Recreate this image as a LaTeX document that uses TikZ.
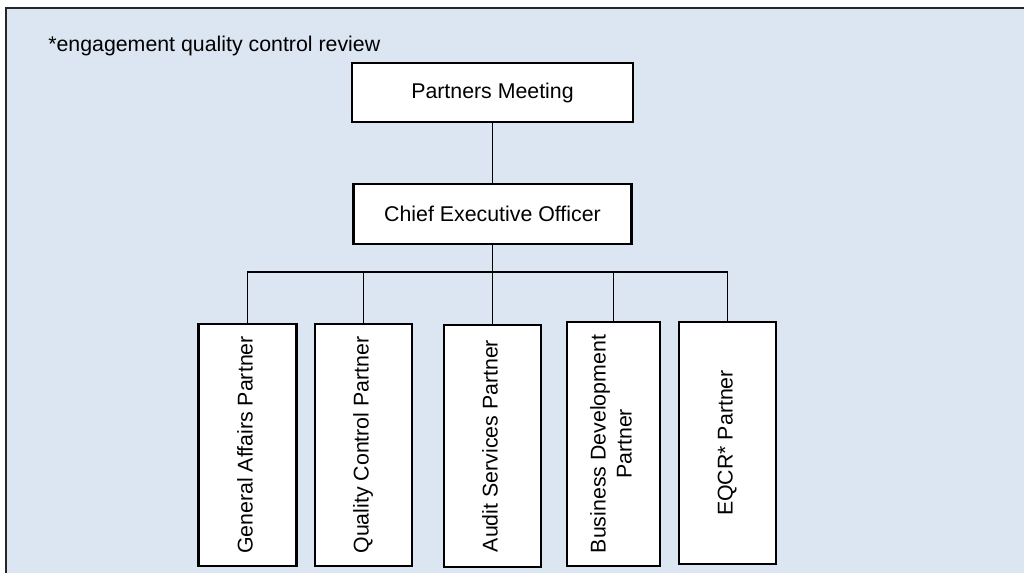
\documentclass[tikz,border=0pt]{standalone}
\usepackage{fontspec}
\setmainfont{Liberation Sans}
\definecolor{bgblue}{RGB}{220,230,242}
\newcommand{\vtext}[1]{\rotatebox{90}{\begin{tabular}{@{}c@{}}#1\end{tabular}}}
\begin{document}
\begin{tikzpicture}[x=0.75pt,y=-0.75pt,
  txt/.style={font=\fontsize{16}{19.5}\selectfont},
  box/.style={draw=black,line width=1.8pt,fill=white,inner sep=0pt,txt},
  tallbox/.style={box,minimum height=181.5pt},
  link/.style={draw=black,line width=1.4pt}]
\useasboundingbox (0,0) rectangle (1024,573);
\fill[bgblue] (6,8) rectangle (1030,580);
\draw[line width=1.3pt,black!85] (6,580) -- (6,8) -- (1030,8);
\node[txt,anchor=base west,inner sep=0pt] (note) at (48,52) {*engagement quality control review};
\node[box,minimum width=210.5pt,minimum height=44.5pt] (pm) at (492.5,92.5) {Partners Meeting};
\node[box,minimum width=208.5pt,minimum height=45pt] (ceo) at (492.5,214) {Chief Executive Officer};
\node[tallbox,minimum width=73.5pt] (ga) at (247.5,445) {\vtext{General Affairs Partner}};
\node[tallbox,minimum width=72.5pt] (qc) at (363.5,445) {\vtext{Quality Control Partner}};
\node[tallbox,minimum width=72.5pt] (as) at (492.5,446) {\vtext{Audit Services Partner}};
\node[tallbox,minimum width=70pt,minimum height=183pt] (bd) at (613.5,444) {\vtext{Business Development\\Partner}};
\node[tallbox,minimum width=72.5pt] (eq) at (727.5,443) {\vtext{EQCR* Partner}};
\coordinate (bus) at (492.5,272);
\draw[link] (pm) -- (ceo);
\draw[link] (ceo.south) -- (bus);
\foreach \b in {ga,qc,as,bd,eq} \draw[link] (bus) -| (\b.north);
\end{tikzpicture}
\end{document}
